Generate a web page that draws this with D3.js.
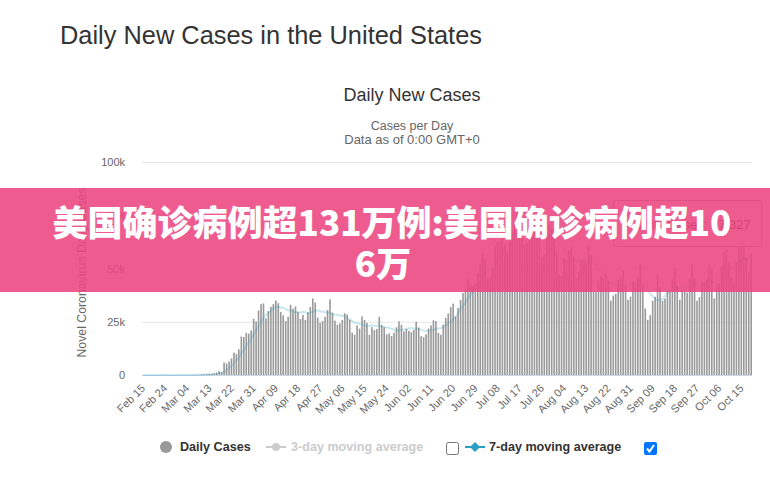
<!DOCTYPE html>
<html>
<head>
<meta charset="utf-8">
<script src="https://cdn.jsdelivr.net/npm/d3@7"></script>
<style>
  body { margin: 0; background: #fff; }
  svg { display: block; }
</style>
</head>
<body>
<svg id="chart" width="770" height="481"></svg>
<script>
// Daily new cases, Feb 15 .. Oct 19
const startDate = new Date(2020, 1, 15);
const febCases = [0,0,0,0,0,0,2,0,0,18,0,6,1,3,7];
const marCases = [8,23,20,31,68,45,140,116,65,376,322,382,516,548,772,1133,1789,1362,5894,5423,6389,7787,10571,9893,12038,18058,17821,19821,19408,20921,26365];
const aprCases = [25200,30300,33300,33600,26600,30000,32000,33300,35000,33700,29600,28000,25300,27300,33000,31200,32200,29600,26300,28200,25900,29400,31900,36000,34000,27000,24500,25400,27300,30500];
const mayCases = [35500,29300,25500,23600,24200,25800,29000,28400,25900,19900,18900,23300,21700,27500,25800,24500,18900,22500,21100,21600,27300,23500,22400,19100,19500,18300,19900,22400,25200,23600,20400];
const junCases = [21600,20700,20100,21200,25000,22300,18200,17800,19100,21800,23300,25700,25300,19800,18900,23700,26800,28900,31900,33500,27400,31500,35200,38500,40200,45300,43200,41600,42800,47700];
const julCases = [52000,57200,54400,45500,45600,50300,60200,62200,63000,68200,61300,58100,62500,67400,71200,77300,73300,64300,61200,62000,67100,71400,70600,74300,66000,55100,57000,65400,70300,68900,67600];
const augCases = [58000,47000,46500,54800,54000,58400,60000,55700,45700,49000,53600,54000,52400,61000,56300,39600,38900,44300,46500,45800,48000,44200,34900,37300,38100,44800,46100,49100,42200,35300,36800];
const sepCases = [43900,41700,45800,51800,42000,31200,25900,28100,34800,36700,47300,41400,34800,35900,39700,39000,45000,50000,41700,35400,40000,39000,38700,45300,52000,45700,34900,36600,43000,43700];
const octCases = [45000,52000,50000,36000,42000,43000,51000,58000,59000,53000,46000,43000,53000,60000,63000,64000,55000,48000,57327];

const xTickLabels = ["Feb 15","Feb 24","Mar 04","Mar 13","Mar 22","Mar 31","Apr 09","Apr 18","Apr 27","May 06","May 15","May 24","Jun 02","Jun 11","Jun 20","Jun 29","Jul 08","Jul 17","Jul 26","Aug 04","Aug 13","Aug 22","Aug 31","Sep 09","Sep 18","Sep 27","Oct 06","Oct 15"];
const yTicks = [0, 25000, 50000, 75000, 100000];
const yTickLabels = ["0", "25k", "50k", "75k", "100k"];
const tickEvery = 9;
const tooltipValue = "57 327";

const dailyCases = [].concat(febCases, marCases, aprCases, mayCases, junCases, julCases, augCases, sepCases, octCases);
const days = d3.timeDay.range(startDate, d3.timeDay.offset(startDate, dailyCases.length));

// 7-day moving average of the daily values
const movingAvg7 = dailyCases.map((v, i) => d3.mean(dailyCases.slice(Math.max(0, i - 6), i + 1)));

const svg = d3.select("#chart");
const font = "'Liberation Sans', Arial, sans-serif";
const plotLeft = 142, plotRight = 752, plotTop = 162, plotBottom = 375;

const x = d3.scaleBand()
  .domain(d3.range(days.length))
  .range([plotLeft, plotRight])
  .paddingInner(0.35);

const y = d3.scaleLinear()
  .domain([0, 100000])
  .range([plotBottom, plotTop]);

// Page title
svg.append("text")
  .attr("x", 60)
  .attr("y", 44)
  .attr("fill", "#333")
  .attr("font-size", 25.4)
  .style("font-family", font)
  .text("Daily New Cases in the United States");

// Chart title + subtitle
svg.append("text")
  .attr("x", 412).attr("y", 101)
  .attr("text-anchor", "middle")
  .attr("fill", "#333")
  .attr("font-size", 18)
  .style("font-family", font)
  .text("Daily New Cases");

svg.append("text")
  .attr("x", 412).attr("y", 130)
  .attr("text-anchor", "middle")
  .attr("fill", "#666")
  .attr("font-size", 12.5)
  .style("font-family", font)
  .text("Cases per Day");

svg.append("text")
  .attr("x", 412).attr("y", 144)
  .attr("text-anchor", "middle")
  .attr("fill", "#666")
  .attr("font-size", 13)
  .style("font-family", font)
  .text("Data as of 0:00 GMT+0");

// Grid lines and y labels
yTicks.forEach((t, i) => {
  if (t > 0) {
    svg.append("line")
      .attr("x1", plotLeft).attr("x2", plotRight)
      .attr("y1", y(t) + 0.5).attr("y2", y(t) + 0.5)
      .attr("stroke", "#e6e6e6");
  }
  svg.append("text")
    .attr("x", 125)
    .attr("y", y(t) + 4)
    .attr("text-anchor", "end")
    .attr("fill", "#666")
    .attr("font-size", 11)
    .style("font-family", font)
    .text(yTickLabels[i]);
});

// Y axis title
svg.append("text")
  .attr("transform", `translate(86,${(plotTop + plotBottom) / 2 + 4}) rotate(-90)`)
  .attr("text-anchor", "middle")
  .attr("fill", "#666")
  .attr("font-size", 12.3)
  .style("font-family", font)
  .text("Novel Coronavirus Daily Cases");

// Bars
svg.append("g")
  .selectAll("rect")
  .data(dailyCases)
  .join("rect")
  .attr("x", (d, i) => x(i))
  .attr("y", d => y(d))
  .attr("width", x.bandwidth())
  .attr("height", d => plotBottom - y(d))
  .attr("fill", "#999");

// X axis line
svg.append("line")
  .attr("x1", plotLeft).attr("x2", plotRight)
  .attr("y1", plotBottom + 0.5).attr("y2", plotBottom + 0.5)
  .attr("stroke", "#ccd6eb");

// 7-day moving average (dimmed, series under hover)
svg.append("path")
  .datum(movingAvg7)
  .attr("fill", "none")
  .attr("stroke", "#2a9fc5")
  .attr("stroke-opacity", 0.25)
  .attr("stroke-width", 2)
  .attr("d", d3.line()
    .x((d, i) => x(i) + x.bandwidth() / 2)
    .y(d => y(d)));

// X tick labels
xTickLabels.forEach((label, i) => {
  const cx = x(i * tickEvery) + x.bandwidth() / 2;
  svg.append("text")
    .attr("transform", `translate(${cx + 3},${plotBottom + 14}) rotate(-45)`)
    .attr("text-anchor", "end")
    .attr("fill", "#666")
    .attr("font-size", 11)
    .style("font-family", font)
    .text(label);
});

// Tooltip
const tip = svg.append("g");
tip.append("rect")
  .attr("x", 613.5).attr("y", 200.5)
  .attr("width", 148).attr("height", 46)
  .attr("rx", 3)
  .attr("fill", "rgba(247,247,247,0.85)")
  .attr("stroke", "#999");
const tipText = tip.append("text")
  .attr("x", 623).attr("y", 229)
  .attr("font-size", 13)
  .attr("fill", "#333")
  .style("font-family", font);
tipText.append("tspan").attr("fill", "#999").text("\u25CF ");
tipText.append("tspan").text("Daily Cases: " + tooltipValue);

// Legend
const legend = svg.append("g").style("font-family", font).attr("font-size", 12.6).attr("font-weight", "bold");
legend.append("circle").attr("cx", 166).attr("cy", 447).attr("r", 6).attr("fill", "#999");
legend.append("text").attr("x", 180).attr("y", 451).attr("fill", "#333").text("Daily Cases");

legend.append("line").attr("x1", 266).attr("x2", 286).attr("y1", 447).attr("y2", 447)
  .attr("stroke", "#ccc").attr("stroke-width", 2);
legend.append("circle").attr("cx", 276).attr("cy", 447).attr("r", 4).attr("fill", "#ccc");
legend.append("text").attr("x", 291).attr("y", 451).attr("fill", "#ccc").text("3-day moving average");

legend.append("rect").attr("x", 446.5).attr("y", 442.5).attr("width", 12).attr("height", 12)
  .attr("rx", 2).attr("fill", "#fff").attr("stroke", "#767676");

legend.append("line").attr("x1", 465).attr("x2", 485).attr("y1", 447).attr("y2", 447)
  .attr("stroke", "#2a9fc5").attr("stroke-width", 2);
legend.append("path").attr("d", "M475,442L480,447L475,452L470,447Z").attr("fill", "#2a9fc5");
legend.append("text").attr("x", 489).attr("y", 451).attr("fill", "#333").text("7-day moving average");

legend.append("rect").attr("x", 644).attr("y", 442).attr("width", 13).attr("height", 13)
  .attr("rx", 2).attr("fill", "#0075ff");
legend.append("path").attr("d", "M647,448.5L649.5,451.5L654,445")
  .attr("fill", "none").attr("stroke", "#fff").attr("stroke-width", 2);

// Pink banner overlay
svg.append("rect")
  .attr("x", 0).attr("y", 188)
  .attr("width", 770).attr("height", 104)
  .attr("fill", "rgba(236,70,128,0.88)");

const bannerFont = "'Noto Sans CJK SC', sans-serif";
svg.append("text")
  .attr("x", 392).attr("y", 236)
  .attr("text-anchor", "middle")
  .attr("fill", "#fff")
  .attr("font-size", 35)
  .attr("font-weight", 900)
  .style("font-family", bannerFont)
  .text("美国确诊病例超131万例:美国确诊病例超10");
svg.append("text")
  .attr("x", 383).attr("y", 277)
  .attr("text-anchor", "middle")
  .attr("fill", "#fff")
  .attr("font-size", 35)
  .attr("font-weight", 900)
  .style("font-family", bannerFont)
  .text("6万");
</script>
</body>
</html>
